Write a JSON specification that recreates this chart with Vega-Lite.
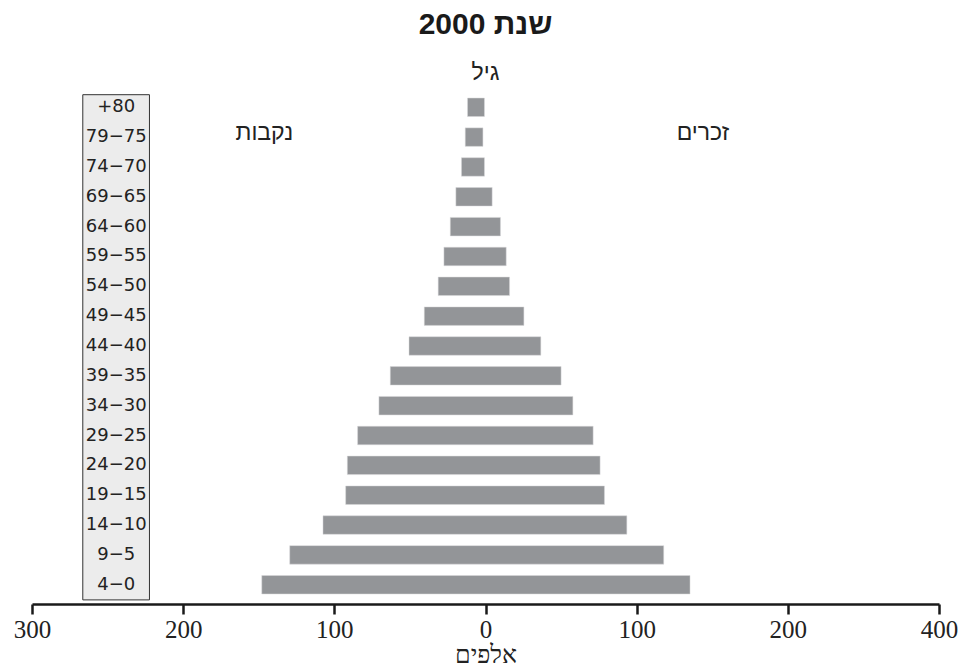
{
  "$schema": "https://vega.github.io/schema/vega-lite/v6.json",
  "width": 907,
  "height": 516,
  "autosize": {"type": "none"},
  "padding": {"left": 32, "top": 88, "right": 24, "bottom": 68},
  "background": "white",
  "config": {
    "view": {"stroke": null},
    "font": "Liberation Sans",
    "text": {"font": "Liberation Sans"}
  },
  "title": {
    "text": "שנת 2000",
    "subtitle": "גיל",
    "anchor": "middle",
    "frame": "group",
    "font": "Liberation Sans",
    "fontSize": 30,
    "fontWeight": "bold",
    "color": "#1a1a1a",
    "subtitleFont": "Liberation Sans",
    "subtitleFontSize": 23,
    "subtitleColor": "#222222",
    "subtitlePadding": 22,
    "offset": 3
  },
  "datasets": {
    "pyramid": [
      {"age": "‪+80‬", "women": -11.9, "men": -0.7},
      {"age": "79−75", "women": -13.4, "men": -1.7},
      {"age": "74−70", "women": -15.9, "men": -0.7},
      {"age": "69−65", "women": -19.6, "men": 4.4},
      {"age": "64−60", "women": -23.3, "men": 9.9},
      {"age": "59−55", "women": -27.5, "men": 13.7},
      {"age": "54−50", "women": -31.3, "men": 15.9},
      {"age": "49−45", "women": -40.5, "men": 25.4},
      {"age": "44−40", "women": -50.6, "men": 36.6},
      {"age": "39−35", "women": -63.0, "men": 50.0},
      {"age": "34−30", "women": -70.5, "men": 57.8},
      {"age": "29−25", "women": -84.6, "men": 71.2},
      {"age": "24−20", "women": -91.4, "men": 75.8},
      {"age": "19−15", "women": -92.5, "men": 78.7},
      {"age": "14−10", "women": -107.5, "men": 93.5},
      {"age": "9−5", "women": -129.5, "men": 117.9},
      {"age": "4−0", "women": -148.0, "men": 135.3}
    ],
    "box": [
      {"left": -266.4, "right": -222.3, "top": "‪+80‬", "bottom": "4−0"}
    ],
    "sexes": [
      {"label": "נקבות", "pos": -146.3, "age": "79−75"},
      {"label": "זכרים", "pos": 143.8, "age": "79−75"}
    ]
  },
  "encoding": {
    "y": {
      "field": "age",
      "type": "nominal",
      "sort": null,
      "axis": null,
      "scale": {
        "domain": ["‪+80‬", "79−75", "74−70", "69−65", "64−60", "59−55", "54−50", "49−45", "44−40", "39−35", "34−30", "29−25", "24−20", "19−15", "14−10", "9−5", "4−0"],
        "paddingInner": 0.38,
        "paddingOuter": 0.336
      }
    }
  },
  "layer": [
    {
      "data": {"name": "box"},
      "mark": {"type": "rect", "fill": "#ececec", "stroke": "#333333", "strokeWidth": 1},
      "encoding": {
        "x": {
          "field": "left",
          "type": "quantitative",
          "scale": {"domain": [-300, 300], "nice": false, "zero": false},
          "axis": {
            "values": [-300, -200, -100, 0, 100, 200, 300],
            "labelExpr": "datum.value == 300 ? '400' : format(abs(datum.value), 'd')",
            "labelFlush": false,
            "labelOverlap": false,
            "grid": false,
            "domainColor": "#1a1a1a",
            "domainWidth": 2.5,
            "tickColor": "#1a1a1a",
            "tickWidth": 2.5,
            "tickSize": 10,
            "labelFont": "Liberation Sans Narrow",
            "labelFontSize": 25,
            "labelColor": "#222222",
            "labelPadding": 3,
            "title": "אלפים",
            "titleFont": "Liberation Sans Narrow",
            "titleFontSize": 25,
            "titleFontWeight": "normal",
            "titleColor": "#222222",
            "titlePadding": 0
          }
        },
        "x2": {"field": "right"},
        "y": {"field": "top", "type": "nominal", "bandPosition": -0.18},
        "y2": {"field": "bottom", "bandPosition": 1.32}
      }
    },
    {
      "data": {"name": "pyramid"},
      "mark": {"type": "bar", "color": "#939598", "stroke": "#d8d8da", "strokeWidth": 0.5},
      "encoding": {
        "x": {"field": "women", "type": "quantitative"},
        "x2": {"field": "men"}
      }
    },
    {
      "data": {"name": "pyramid"},
      "mark": {"type": "text", "font": "DejaVu Sans", "fontSize": 18, "color": "#222222", "align": "center", "baseline": "middle"},
      "encoding": {
        "x": {"datum": -244.3, "type": "quantitative"},
        "text": {"field": "age"}
      }
    },
    {
      "data": {"name": "sexes"},
      "mark": {"type": "text", "fontSize": 23, "color": "#222222", "align": "center", "baseline": "middle", "dy": -4},
      "encoding": {
        "x": {"field": "pos", "type": "quantitative"},
        "text": {"field": "label"}
      }
    }
  ]
}
